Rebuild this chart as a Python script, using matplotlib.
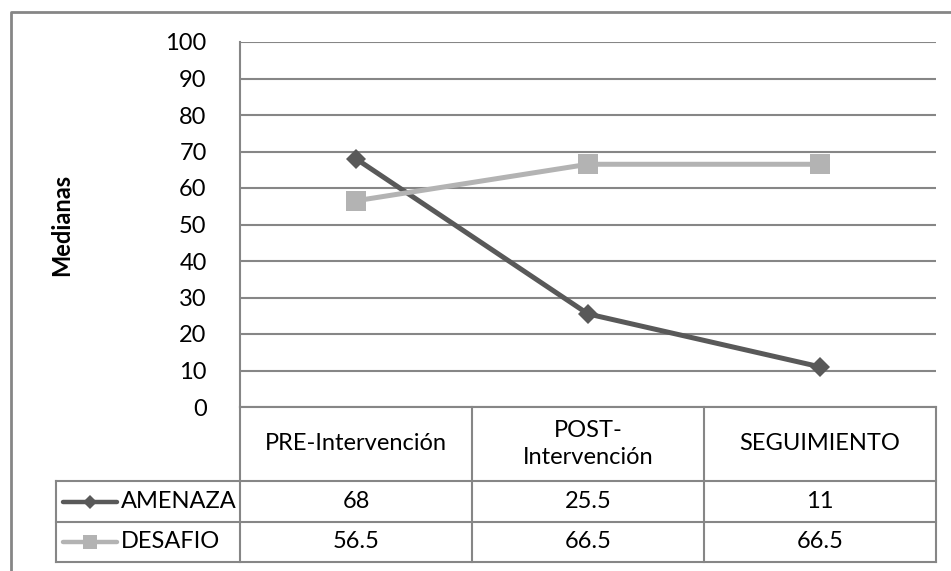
import matplotlib
matplotlib.use("Agg")
import matplotlib.pyplot as plt

plt.rcParams['font.family'] = ['Lato', 'DejaVu Sans']

categories = ["PRE-Intervención", "POST-\nIntervención", "SEGUIMIENTO"]
series_names = ["AMENAZA", "DESAFIO"]
amenaza = [68, 25.5, 11]
desafio = [56.5, 66.5, 66.5]
amenaza_labels = ["68", "25.5", "11"]
desafio_labels = ["56.5", "66.5", "66.5"]
yticks = [0, 10, 20, 30, 40, 50, 60, 70, 80, 90, 100]

W, H = 951, 571
fig = plt.figure(figsize=(W / 100, H / 100), dpi=100)

grid_c = "#868686"
dark = "#595959"
light = "#B3B3B3"
fs = 17

# pixel layout
px_l, px_r, px_t, px_b = 240, 936, 42, 407

def fx(x):
    return x / W

def fy(y):
    return 1 - y / H

ax = fig.add_axes([fx(px_l), fy(px_b), fx(px_r) - fx(px_l), fy(px_t) - fy(px_b)])
ax.set_xlim(-0.5, 2.5)
ax.set_ylim(0, 100)
ax.set_yticks(yticks)
ax.set_yticklabels([str(v) for v in yticks], fontsize=fs)
ax.tick_params(axis='y', length=0, pad=24)
ax.set_xticks([])
for s in ["top", "right", "bottom"]:
    ax.spines[s].set_visible(False)
ax.spines["left"].set_color(grid_c)
ax.spines["left"].set_linewidth(1.5)
ax.yaxis.grid(True, color=grid_c, linewidth=1.5)
ax.set_axisbelow(True)

xs = list(range(len(categories)))
ax.plot(xs, amenaza, color=dark, linewidth=3.6, marker='D', markersize=10,
        markeredgewidth=0, clip_on=False, zorder=3)
ax.plot(xs, desafio, color=light, linewidth=3.6, marker='s', markersize=14.5,
        markeredgewidth=0, clip_on=False, zorder=3)

# overlay axes in pixel coordinates for table and border
ov = fig.add_axes([0, 0, 1, 1], zorder=5)
ov.set_xlim(0, W)
ov.set_ylim(H, 0)
ov.axis('off')
ov.patch.set_alpha(0)

ov.text(62, 225, "Medianas", rotation=90, ha='center', va='center',
        fontsize=fs, fontweight='bold')

lw = 1.5
ov.plot([11, 11, W + 5], [H + 5, 12, 12], color=grid_c, linewidth=2, solid_capstyle='butt')

col_w = (px_r - px_l) / len(categories)
row_top = [407, 481, 522]
row_bot = [481, 522, 562]
leg_l = 56

ov.plot([px_l, px_r], [407, 407], color=grid_c, linewidth=lw)
for y in [481, 522, 562]:
    ov.plot([leg_l, px_r], [y, y], color=grid_c, linewidth=lw)
for i in range(len(categories) + 1):
    x = px_l + i * col_w
    ov.plot([x, x], [407, 562], color=grid_c, linewidth=lw)
ov.plot([leg_l, leg_l], [481, 562], color=grid_c, linewidth=lw)

for i, c in enumerate(categories):
    ov.text(px_l + (i + 0.5) * col_w, (407 + 481) / 2, c, ha='center', va='center',
            fontsize=fs, linespacing=1.35)

rows = [(series_names[0], amenaza_labels, dark, 'D', 7.5),
        (series_names[1], desafio_labels, light, 's', 10.5)]
for r, (name, labels, col, mk, ms) in enumerate(rows):
    yc = (row_top[r + 1] + row_bot[r + 1]) / 2
    ov.plot([63, 117], [yc, yc], color=col, linewidth=3.2, solid_capstyle='round')
    ov.plot([90], [yc], color=col, marker=mk, markersize=ms, markeredgewidth=0)
    ov.text(121, yc, name, ha='left', va='center', fontsize=fs)
    for i, lab in enumerate(labels):
        ov.text(px_l + (i + 0.5) * col_w, yc, lab, ha='center', va='center', fontsize=fs)

fig.savefig("out.png", dpi=100)
